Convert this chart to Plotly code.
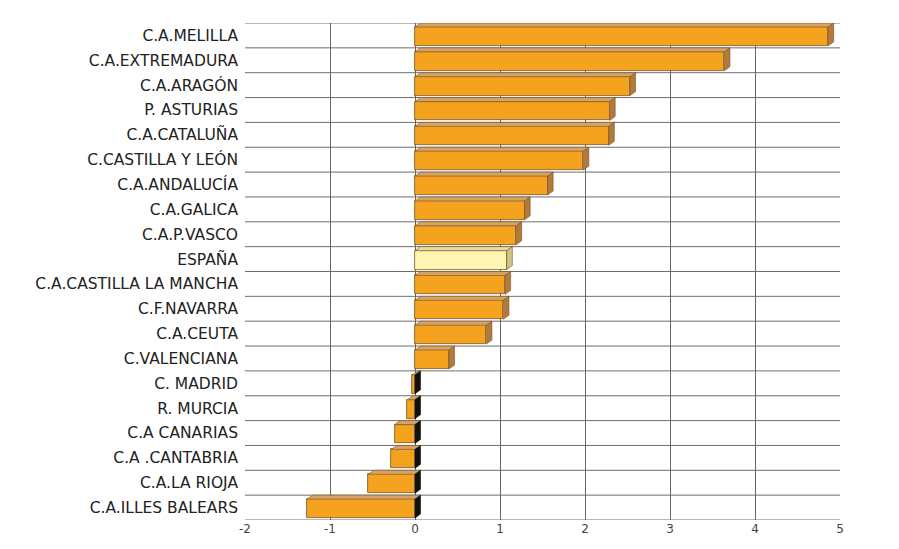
import plotly.graph_objects as go

# Regional values, top to bottom
regions = [
    "C.A.MELILLA", "C.A.EXTREMADURA", "C.A.ARAGÓN", "P. ASTURIAS",
    "C.A.CATALUÑA", "C.CASTILLA Y LEÓN", "C.A.ANDALUCÍA", "C.A.GALICA",
    "C.A.P.VASCO", "ESPAÑA", "C.A.CASTILLA LA MANCHA", "C.F.NAVARRA",
    "C.A.CEUTA", "C.VALENCIANA", "C. MADRID", "R. MURCIA",
    "C.A CANARIAS", "C.A .CANTABRIA", "C.A.LA RIOJA", "C.A.ILLES BALEARS",
]
values = [
    4.86, 3.64, 2.53, 2.29,
    2.28, 1.98, 1.56, 1.29,
    1.19, 1.08, 1.06, 1.04,
    0.84, 0.40, -0.03, -0.09,
    -0.24, -0.28, -0.55, -1.27,
]
highlight = "ESPAÑA"
x_ticks = [-2, -1, 0, 1, 2, 3, 4, 5]

# Styling of the pseudo-3D bars
FRONT = "#F5A21E"
FRONT_HL = "#FDF6B2"
TOP = "#D7A264"
TOP_HL = "#E6DDA0"
SIDE = "#B27A3C"
SIDE_HL = "#CFC489"
SIDE_NEG = "#111111"
EDGE = "#7A5424"
DX = 0.065      # depth along x (data units)
DY = 0.16       # depth along y (category units)
FRONT_TOP = -0.34
FRONT_H = 0.76

idx = list(range(len(regions)))
fig = go.Figure()

# Front faces
fig.add_trace(go.Bar(
    x=values, y=idx, orientation="h",
    offset=FRONT_TOP, width=FRONT_H,
    marker=dict(
        color=[FRONT_HL if r == highlight else FRONT for r in regions],
        line=dict(color=EDGE, width=0.8),
    ),
    hoverinfo="skip", showlegend=False,
))

# Top and end faces giving the bars depth
for i, (r, v) in enumerate(zip(regions, values)):
    hl = r == highlight
    lo, hi = min(0, v), max(0, v)
    t = i + FRONT_TOP
    b = i + FRONT_TOP + FRONT_H
    fig.add_trace(go.Scatter(
        x=[lo, hi, hi + DX, lo + DX, lo],
        y=[t, t, t - DY, t - DY, t],
        mode="lines", fill="toself",
        fillcolor=TOP_HL if hl else TOP,
        line=dict(color=EDGE, width=0.6),
        hoverinfo="skip", showlegend=False,
    ))
    side_col = SIDE_NEG if v < 0 else (SIDE_HL if hl else SIDE)
    fig.add_trace(go.Scatter(
        x=[hi, hi + DX, hi + DX, hi, hi],
        y=[t, t - DY, b - DY, b, t],
        mode="lines", fill="toself",
        fillcolor=side_col,
        line=dict(color=EDGE if v >= 0 else SIDE_NEG, width=0.6),
        hoverinfo="skip", showlegend=False,
    ))

# Row separators
shapes = []
for k in range(len(regions) + 1):
    shapes.append(dict(
        type="line", xref="paper", yref="y",
        x0=0, x1=1, y0=k - 0.5, y1=k - 0.5,
        line=dict(color="#6E6E6E", width=1), layer="below",
    ))

fig.update_layout(
    width=899, height=549,
    margin=dict(l=245, r=59, t=23, b=29),
    paper_bgcolor="white", plot_bgcolor="white",
    shapes=shapes,
    bargap=0,
    font=dict(family="DejaVu Sans, Liberation Sans, sans-serif", color="#222222"),
    xaxis=dict(
        range=[x_ticks[0], x_ticks[-1]],
        tickvals=x_ticks, ticktext=[str(t) for t in x_ticks],
        showgrid=True, gridcolor="#666666", gridwidth=1,
        zeroline=False, showline=False,
        tickfont=dict(size=12, color="#444444"),
        fixedrange=True,
    ),
    yaxis=dict(
        range=[len(regions) - 0.5, -0.5],
        tickvals=idx, ticktext=regions,
        showgrid=False, zeroline=False, showline=False,
        tickfont=dict(size=15.5, color="#222222"),
        ticklabelstandoff=6,
        fixedrange=True,
    ),
)

fig.write_html("out.html")
